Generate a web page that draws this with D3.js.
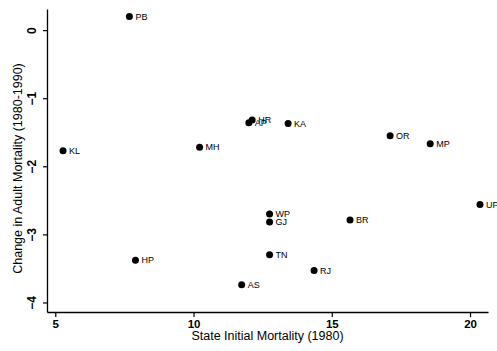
<!DOCTYPE html>
<html>
<head>
<meta charset="utf-8">
<script src="https://cdn.jsdelivr.net/npm/d3@7"></script>
<style>
  html, body { margin: 0; padding: 0; background: #fff; }
  svg { display: block; }
  text { font-family: "Liberation Sans", Arial, Helvetica, sans-serif; fill: #000; }
</style>
</head>
<body>
<svg id="chart" width="497" height="351"></svg>
<script>
// State codes with initial (1980) mortality and its change over 1980-1990
const states = ["PB", "KL", "MH", "AP", "HR", "KA", "OR", "MP", "UP", "WP", "GJ", "BR", "TN", "HP", "RJ", "AS"];
const initialMortality = [7.68, 5.28, 10.22, 12.0, 12.12, 13.42, 17.11, 18.56, 20.36, 12.75, 12.75, 15.66, 12.75, 7.9, 14.36, 11.74];
const mortalityChange = [0.2, -1.77, -1.72, -1.36, -1.32, -1.37, -1.55, -1.67, -2.56, -2.7, -2.82, -2.79, -3.3, -3.38, -3.53, -3.74];
const xTicks = [5, 10, 15, 20];
const yTicks = [0, -1, -2, -3, -4];

const svg = d3.select("#chart");
const plotLeft = 47, plotRight = 488, plotTop = 9, plotBottom = 312;

const x = d3.scaleLinear().domain([4.7, 20.65]).range([plotLeft, plotRight]);
const y = d3.scaleLinear().domain([-4.14, 0.31]).range([plotBottom, plotTop]);

// x axis
const xAxis = svg.append("g")
  .attr("transform", `translate(0,${plotBottom})`)
  .call(d3.axisBottom(x).tickValues(xTicks).tickFormat(d3.format("d")).tickSize(5).tickSizeOuter(0));
xAxis.select(".domain").attr("stroke", "#000").attr("stroke-width", 1.3);
xAxis.selectAll(".tick line").attr("stroke", "#000").attr("stroke-width", 1.2);
xAxis.selectAll(".tick text")
  .attr("font-size", 11.5).attr("font-weight", "bold")
  .attr("y", 8).attr("dy", "0.71em")
  .style("font-family", "'Liberation Sans', Arial, sans-serif");

// y axis with rotated tick labels
const yAxis = svg.append("g")
  .attr("transform", `translate(${plotLeft},0)`)
  .call(d3.axisLeft(y).tickValues(yTicks).tickFormat(d3.format("d")).tickSize(4).tickSizeOuter(0));
yAxis.select(".domain").attr("stroke", "#000").attr("stroke-width", 1.3);
yAxis.selectAll(".tick line").attr("stroke", "#000").attr("stroke-width", 1.2);
yAxis.selectAll(".tick text")
  .attr("font-size", 12).attr("font-weight", "bold")
  .attr("x", 0).attr("dy", 0)
  .attr("text-anchor", "middle")
  .attr("transform", "translate(-11,0) rotate(-90)")
  .style("font-family", "'Liberation Sans', Arial, sans-serif");

// axis titles
svg.append("text")
  .attr("x", (plotLeft + plotRight) / 2).attr("y", 340)
  .attr("text-anchor", "middle").attr("font-size", 12.5)
  .text("State Initial Mortality (1980)");

svg.append("text")
  .attr("transform", `translate(22,${(plotTop + plotBottom) / 2 + 8}) rotate(-90)`)
  .attr("text-anchor", "middle").attr("font-size", 12.5)
  .text("Change in Adult Mortality (1980-1990)");

// points with state labels
const data = states.map((s, i) => ({ s, xv: initialMortality[i], yv: mortalityChange[i] }));
const g = svg.append("g");
g.selectAll("circle").data(data).join("circle")
  .attr("cx", d => x(d.xv)).attr("cy", d => y(d.yv))
  .attr("r", 3.5).attr("fill", "#000");
g.selectAll("text.lbl").data(data).join("text")
  .attr("class", "lbl")
  .attr("x", d => x(d.xv) + 6).attr("y", d => y(d.yv))
  .attr("dy", "0.36em").attr("font-size", 9)
  .text(d => d.s);
</script>
</body>
</html>
